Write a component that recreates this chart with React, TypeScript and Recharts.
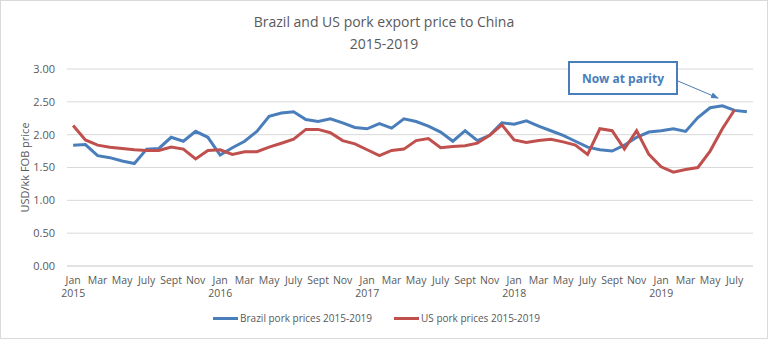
import { LineChart, Line, XAxis, YAxis, CartesianGrid, Legend } from 'recharts';

// Monthly pork export price to China, USD/kg FOB, Jan 2015 - Aug 2019
const years = ['2015', '2016', '2017', '2018', '2019'];
const monthNames = ['Jan', 'Feb', 'Mar', 'Apr', 'May', 'June', 'July', 'Aug', 'Sept', 'Oct', 'Nov', 'Dec'];

const brazilPrices = [
    1.84, 1.85, 1.68, 1.65, 1.60, 1.56, 1.78, 1.79, 1.96, 1.90, 2.05, 1.96,
    1.69, 1.80, 1.90, 2.05, 2.28, 2.33, 2.35, 2.23, 2.20, 2.24, 2.18, 2.11,
    2.09, 2.17, 2.10, 2.24, 2.20, 2.13, 2.04, 1.90, 2.06, 1.91, 1.99, 2.18,
    2.16, 2.21, 2.13, 2.06, 1.99, 1.90, 1.81, 1.77, 1.75, 1.84, 1.96, 2.04,
    2.06, 2.09, 2.05, 2.26, 2.41, 2.44, 2.37, 2.35,
];

const usPrices = [
    2.14, 1.92, 1.84, 1.81, 1.79, 1.77, 1.76, 1.76, 1.81, 1.78, 1.63, 1.76,
    1.77, 1.70, 1.74, 1.74, 1.81, 1.87, 1.93, 2.08, 2.08, 2.03, 1.91, 1.86,
    1.77, 1.68, 1.76, 1.78, 1.91, 1.94, 1.80, 1.82, 1.83, 1.87, 1.99, 2.15,
    1.92, 1.88, 1.91, 1.93, 1.89, 1.84, 1.70, 2.09, 2.06, 1.78, 2.06, 1.70,
    1.51, 1.43, 1.47, 1.50, 1.75, 2.09, 2.38,
];

const yTicks = [0, 0.5, 1, 1.5, 2, 2.5, 3];

const FONT = '"Open Sans", sans-serif';
const TEXT = '#595959';
const BLUE = '#4a7ebb';
const RED = '#c0504d';

const categories: { month: string; year: string }[] = [];
years.forEach((year) => {
    monthNames.forEach((month) => {
        if (categories.length < brazilPrices.length) categories.push({ month, year });
    });
});

const chartData = categories.map((c, i) => ({
    label: `${c.month} ${c.year}`,
    brazil: brazilPrices[i],
    us: i < usPrices.length ? usPrices[i] : null,
}));

function MonthTick(props: any) {
    const { x, y, index } = props;
    const cat = categories[index];
    if (!cat || index % 2 !== 0) return <g />;
    return (
        <g transform={`translate(${x},${y})`}>
            <text x={0} y={0} dy={18} textAnchor="middle" fill={TEXT} fontSize={10.5} fontFamily={FONT}>
                {cat.month}
            </text>
            {cat.month === 'Jan' && (
                <text x={0} y={0} dy={31} textAnchor="middle" fill={TEXT} fontSize={10.5} fontFamily={FONT}>
                    {cat.year}
                </text>
            )}
        </g>
    );
}

function LegendContent(props: any) {
    const { payload } = props;
    return (
        <div
            style={{
                display: 'flex',
                justifyContent: 'center',
                alignItems: 'center',
                height: 24,
                gap: 22,
                fontFamily: FONT,
                fontSize: 10,
                color: TEXT,
            }}
        >
            {(payload || []).map((item: any) => (
                <div key={item.value} style={{ display: 'flex', alignItems: 'center' }}>
                    <span style={{ display: 'inline-block', width: 25, height: 3, background: item.color, marginRight: 2 }} />
                    <span>{item.value}</span>
                </div>
            ))}
        </div>
    );
}

export default function App() {
    return (
        <div
            style={{
                position: 'absolute',
                left: 0,
                top: 0,
                width: 768,
                height: 339,
                background: '#fff',
                border: '1px solid #d9d9d9',
                boxSizing: 'border-box',
                fontFamily: FONT,
            }}
        >
            <div style={{ position: 'absolute', left: 0, width: 766, top: 10, textAlign: 'center', fontSize: 14, color: TEXT, lineHeight: '22px' }}>
                Brazil and US pork export price to China
                <br />
                2015-2019
            </div>
            <div style={{ position: 'absolute', left: -1, top: -1 }}>
                <LineChart width={768} height={339} data={chartData} margin={{ top: 69, right: 15, bottom: 5, left: 0 }}>
                    <CartesianGrid stroke="#d9d9d9" vertical={false} />
                    <XAxis
                        dataKey="label"
                        interval={0}
                        height={40}
                        padding={{ left: 6.125, right: 6.125 }}
                        tickLine={false}
                        tickSize={0}
                        tickMargin={0}
                        axisLine={{ stroke: '#d9d9d9' }}
                        tick={<MonthTick />}
                    />
                    <YAxis
                        width={67}
                        domain={[0, 3]}
                        ticks={yTicks}
                        axisLine={false}
                        tickLine={false}
                        tickMargin={6}
                        tickFormatter={(v: number) => v.toFixed(2)}
                        tick={{ fill: TEXT, fontSize: 11, fontFamily: FONT }}
                        label={{
                            value: 'USD/kk FOB price',
                            angle: -90,
                            position: 'insideLeft',
                            offset: 25,
                            style: { textAnchor: 'middle', fill: TEXT, fontSize: 11, fontFamily: FONT },
                        }}
                    />
                    <Legend verticalAlign="bottom" height={28} content={<LegendContent />} />
                    <Line
                        type="linear"
                        dataKey="brazil"
                        name="Brazil pork prices 2015-2019"
                        stroke={BLUE}
                        strokeWidth={3}
                        dot={false}
                        isAnimationActive={false}
                    />
                    <Line
                        type="linear"
                        dataKey="us"
                        name="US pork prices 2015-2019"
                        stroke={RED}
                        strokeWidth={3}
                        dot={false}
                        isAnimationActive={false}
                    />
                </LineChart>
            </div>
            {/* annotation: "Now at parity" */}
            <div
                style={{
                    position: 'absolute',
                    left: 567,
                    top: 60,
                    width: 110,
                    height: 34,
                    border: `2.5px solid ${BLUE}`,
                    boxSizing: 'border-box',
                    background: '#fff',
                    color: BLUE,
                    fontWeight: 'bold',
                    fontSize: 12,
                    display: 'flex',
                    alignItems: 'center',
                    justifyContent: 'center',
                }}
            >
                Now at parity
            </div>
            <svg style={{ position: 'absolute', left: 0, top: 0 }} width={768} height={339}>
                <defs>
                    <marker id="arrowhead" markerWidth="8" markerHeight="6" refX="7" refY="3" orient="auto">
                        <path d="M0,0 L8,3 L0,6 Z" fill={BLUE} />
                    </marker>
                </defs>
                <line x1={677} y1={80} x2={717} y2={97} stroke={BLUE} strokeWidth={1} markerEnd="url(#arrowhead)" />
            </svg>
        </div>
    );
}
